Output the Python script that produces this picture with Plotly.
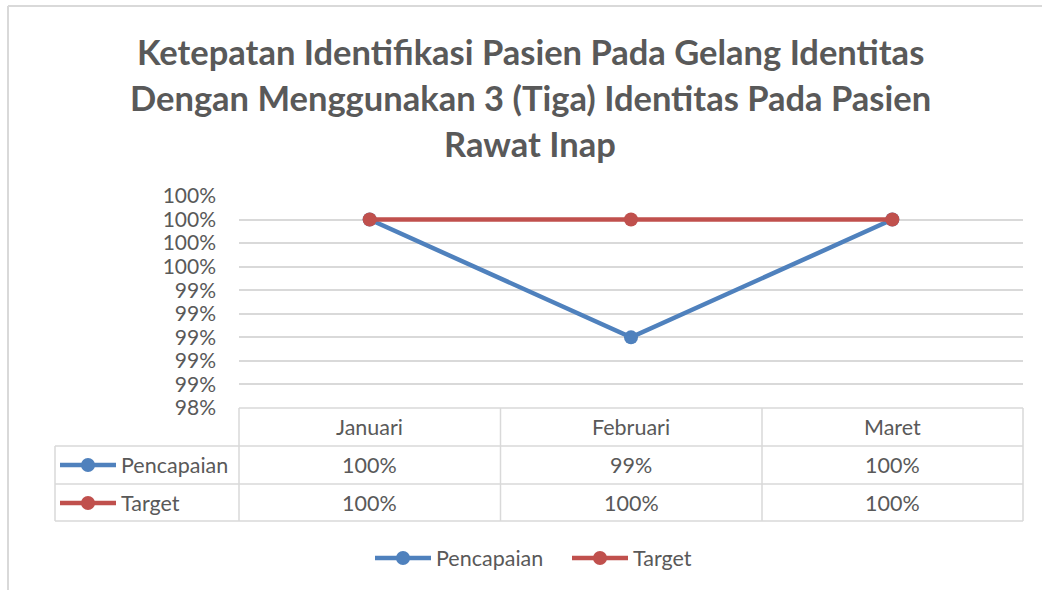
import plotly.graph_objects as go

# ---- data ----
months = ["Januari", "Februari", "Maret"]
pencapaian = [1.00, 0.99, 1.00]
target = [1.00, 1.00, 1.00]
series_names = ["Pencapaian", "Target"]
title_lines = [
    "Ketepatan Identifikasi Pasien Pada Gelang Identitas",
    "Dengan Menggunakan 3 (Tiga) Identitas Pada Pasien",
    "Rawat Inap",
]

# ---- style ----
BLUE = "#4F81BD"
RED = "#C0504D"
GRID = "#D9D9D9"
TXT = "#595959"
FONT = "Lato"

W, H = 1042, 590
L, R, T, B = 239, 1023, 196, 408  # plot area in pixels


def px(x):
    return (x - L) / (R - L)


def py(y):
    return (B - y) / (B - T)


fig = go.Figure()
fig.add_trace(go.Scatter(x=months, y=pencapaian, mode="lines+markers", name=series_names[0],
                         line=dict(color=BLUE, width=4.5), marker=dict(size=14, color=BLUE)))
fig.add_trace(go.Scatter(x=months, y=target, mode="lines+markers", name=series_names[1],
                         line=dict(color=RED, width=4.5), marker=dict(size=14, color=RED)))

shapes = []
annotations = []


def hline(y, x0, x1, color=GRID, w=1.5):
    shapes.append(dict(type="line", xref="paper", yref="paper", x0=px(x0), x1=px(x1),
                       y0=py(y), y1=py(y), line=dict(color=color, width=w)))


def vline(x, y0, y1, color=GRID, w=1.5):
    shapes.append(dict(type="line", xref="paper", yref="paper", x0=px(x), x1=px(x),
                       y0=py(y0), y1=py(y1), line=dict(color=color, width=w)))


def text(x, y, s, size=21.5, anchor="center", bold=False):
    annotations.append(dict(xref="paper", yref="paper", x=px(x), y=py(y), text=s, showarrow=False,
                            xanchor=anchor, yanchor="middle",
                            font=dict(family=FONT, size=size, color=TXT,
                                      weight="bold" if bold else "normal")))


def key(x0, x1, y, color):
    shapes.append(dict(type="line", xref="paper", yref="paper", x0=px(x0), x1=px(x1),
                       y0=py(y), y1=py(y), line=dict(color=color, width=4.5)))
    cx = (x0 + x1) / 2
    r = 7
    shapes.append(dict(type="circle", xref="paper", yref="paper", x0=px(cx - r), x1=px(cx + r),
                       y0=py(y + r), y1=py(y - r), fillcolor=color, line=dict(color=color, width=0)))


# chart border (top & left)
hline(6, 8, 1042, color="#D9D9D9", w=2)
vline(8, 6, 590, color="#D9D9D9", w=2)

# title
for i, line in enumerate(title_lines):
    text(530, 52 + i * 45.5, line, size=34.5, bold=True)

# data table
cols = [239, 500.5, 762, 1023]
rows = [408, 446, 484, 521]
hline(rows[0], cols[0], cols[-1])
for yv in rows[1:]:
    hline(yv, 55, cols[-1])
for xv in cols:
    vline(xv, rows[0], rows[-1])
vline(55, rows[1], rows[-1])

centers = [(cols[i] + cols[i + 1]) / 2 for i in range(3)]
for i, m in enumerate(months):
    text(centers[i], 427, m)
for r_i, (vals, color, name) in enumerate([(pencapaian, BLUE, series_names[0]),
                                           (target, RED, series_names[1])]):
    yc = 465 + r_i * 38
    key(60, 116, yc, color)
    text(119, yc, name, anchor="left")
    for i, v in enumerate(vals):
        text(centers[i], yc, f"{v * 100:.0f}%")

# bottom legend
key(375, 431, 558, BLUE)
text(434, 558, series_names[0], anchor="left")
key(572, 628, 558, RED)
text(631, 558, series_names[1], anchor="left")

fig.update_layout(
    width=W, height=H,
    margin=dict(l=L, r=W - R, t=T, b=H - B, pad=0),
    paper_bgcolor="white", plot_bgcolor="white",
    showlegend=False,
    hovermode=False,
    shapes=shapes, annotations=annotations,
    font=dict(family=FONT, color=TXT),
    xaxis=dict(type="category", range=[-0.5, 2.5], showgrid=False, showticklabels=False,
               zeroline=False, showline=False, fixedrange=True),
    yaxis=dict(range=[0.984, 1.002], dtick=0.002, tick0=0.984, tickformat=".0%",
               showgrid=True, gridcolor=GRID, gridwidth=1.5, zeroline=False, showline=False,
               ticks="", ticklabelstandoff=22, tickfont=dict(family=FONT, size=21, color=TXT),
               fixedrange=True),
)

fig.write_html("out.html", config={"displayModeBar": False},
               post_script="document.body.style.margin='0';")
